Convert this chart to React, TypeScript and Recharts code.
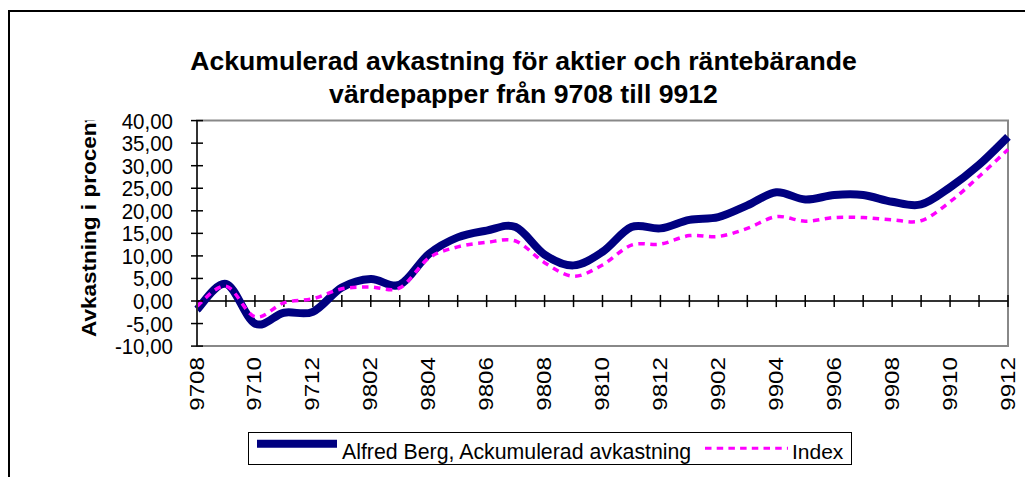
import React from 'react';
import { LineChart, Line, XAxis, YAxis, ReferenceLine, ReferenceArea, Legend } from 'recharts';

const months = ['9708', '9709', '9710', '9711', '9712', '9801', '9802', '9803', '9804', '9805', '9806', '9807', '9808', '9809', '9810', '9811', '9812', '9901', '9902', '9903', '9904', '9905', '9906', '9907', '9908', '9909', '9910', '9911', '9912'];
const alfredBerg = [-1.9, 3.8, -5.0, -2.6, -2.4, 3.0, 4.9, 3.6, 10.4, 14.1, 15.6, 16.4, 10.3, 7.9, 10.9, 16.4, 16.1, 18.0, 18.6, 21.2, 24.1, 22.5, 23.5, 23.5, 22.0, 21.4, 25.2, 30.2, 36.4];
const indexSeries = [-1.1, 3.3, -3.5, -0.4, 0.5, 2.7, 3.1, 2.9, 9.5, 12.0, 13.0, 13.3, 8.5, 5.5, 8.0, 12.4, 12.6, 14.5, 14.3, 16.1, 18.7, 17.7, 18.5, 18.5, 18.0, 17.8, 22.0, 27.6, 33.6];
const yTicks = [-10, -5, 0, 5, 10, 15, 20, 25, 30, 35, 40];
const titleLines = ['Ackumulerad avkastning för aktier och räntebärande', 'värdepapper från 9708 till 9912'];
const yAxisTitle = 'Avkastning i procent';
const seriesNames = ['Alfred Berg, Ackumulerad avkastning', 'Index'];

const data = months.map((m, i) => ({ m, ab: alfredBerg[i], idx: indexSeries[i] }));

const FONT = '"Liberation Sans", Arial, sans-serif';
const Y_STRETCH = 1.08;
const X_STRETCH = 1.15;
const NAVY = '#000080';
const MAGENTA = '#FF00FF';

// Excel-like smoothing (uniform Catmull-Rom as cubic Bezier)
const excelSmooth: any = (context: any) => {
  let pts: number[][] = [];
  return {
    areaStart() {},
    areaEnd() {},
    lineStart() {
      pts = [];
    },
    point(x: number, y: number) {
      pts.push([+x, +y]);
    },
    lineEnd() {
      const n = pts.length;
      if (!n) return;
      context.moveTo(pts[0][0], pts[0][1]);
      for (let i = 0; i < n - 1; i++) {
        const p0 = pts[Math.max(i - 1, 0)];
        const p1 = pts[i];
        const p2 = pts[i + 1];
        const p3 = pts[Math.min(i + 2, n - 1)];
        context.bezierCurveTo(
          p1[0] + (p2[0] - p0[0]) / 6,
          p1[1] + (p2[1] - p0[1]) / 6,
          p2[0] - (p3[0] - p1[0]) / 6,
          p2[1] - (p3[1] - p1[1]) / 6,
          p2[0],
          p2[1]
        );
      }
    },
  };
};

const fmt = (v: number) => v.toFixed(2).replace('.', ',');

const YTick = (props: any) => {
  const { x, y, payload } = props;
  const ax = x + 24;
  return (
    <g>
      <line x1={ax - 6} x2={ax + 6} y1={y} y2={y} stroke="#000" strokeWidth={1.5} />
      <g transform={`translate(${x},${y}) scale(1,${Y_STRETCH})`}>
        <text textAnchor="end" dy="0.36em" fontSize={20.5} fill="#000" fontFamily={FONT}>
          {fmt(payload.value)}
        </text>
      </g>
    </g>
  );
};

const XTick = (props: any) => {
  const { x, y, payload } = props;
  return (
    <g transform={`translate(${x - 1},${y + 3}) scale(1,${X_STRETCH})`}>
      <text transform="rotate(-90)" textAnchor="end" dy="0.36em" fontSize={21} fill="#000" fontFamily={FONT}>
        {payload.value}
      </text>
    </g>
  );
};

const LegendBox = () => (
  <svg width={605} height={34} style={{ display: 'block', overflow: 'visible' }}>
    <rect x={0.5} y={0.5} width={603} height={32} fill="#fff" stroke="#000" strokeWidth={1} />
    <line x1={9} x2={89} y1={11.8} y2={11.8} stroke={NAVY} strokeWidth={8} />
    <text x={94} y={27.3} fontSize={21.3} fill="#000" fontFamily={FONT}>
      {seriesNames[0]}
    </text>
    <line x1={457} x2={540} y1={16.3} y2={16.3} stroke={MAGENTA} strokeWidth={3} strokeDasharray="6.5 5.2" />
    <text x={544} y={27.3} fontSize={21} fill="#000" fontFamily={FONT}>
      {seriesNames[1]}
    </text>
  </svg>
);

export default function App() {
  return (
    <div
      style={{
        position: 'absolute',
        left: 0,
        top: 0,
        width: 1025,
        height: 477,
        overflow: 'hidden',
        background: '#fff',
        fontFamily: FONT,
      }}
    >
      <svg width={1025} height={477} style={{ position: 'absolute', left: 0, top: 0 }}>
        <defs>
          <clipPath id="ylabclip">
            <rect x={0} y={120.5} width={200} height={357} />
          </clipPath>
        </defs>
        <rect x={9} y={11} width={1200} height={1000} fill="none" stroke="#000" strokeWidth={2} />
        <text x={523.5} y={70} textAnchor="middle" fontSize={26.6} fontWeight="bold" fill="#000" fontFamily={FONT}>
          {titleLines[0]}
        </text>
        <text x={523.5} y={103} textAnchor="middle" fontSize={26.6} fontWeight="bold" fill="#000" fontFamily={FONT}>
          {titleLines[1]}
        </text>
        <g clipPath="url(#ylabclip)">
          <g transform={`translate(96,337) scale(1,1.1)`}>
            <text transform="rotate(-90)" fontSize={20.5} fontWeight="bold" fill="#000" fontFamily={FONT}>
              {yAxisTitle}
            </text>
          </g>
        </g>
      </svg>
      <div style={{ position: 'absolute', left: 0, top: 0 }}>
        <LineChart width={1025} height={477} data={data} margin={{ top: 120.6, right: 17, bottom: 30.9, left: 97 }}>
          <ReferenceArea
            x1={months[0]}
            x2={months[months.length - 1]}
            y1={-10}
            y2={40}
            fill="none"
            fillOpacity={0}
            stroke="#888"
            strokeWidth={2}
          />
          <ReferenceLine y={0} stroke="#333" strokeWidth={2} />
          {months.map((m) => (
            <ReferenceLine
              key={m}
              segment={[
                { x: m, y: -1.35 },
                { x: m, y: 1.35 },
              ]}
              stroke="#000"
              strokeWidth={1.5}
            />
          ))}
          <XAxis
            dataKey="m"
            type="category"
            interval={1}
            height={100}
            axisLine={false}
            tickLine={false}
            tick={<XTick />}
          />
          <YAxis
            type="number"
            domain={[-10, 40]}
            ticks={yTicks}
            interval={0}
            width={100}
            tickLine={false}
            tickSize={6}
            tickMargin={18}
            axisLine={{ stroke: '#333', strokeWidth: 2 }}
            tick={<YTick />}
          />
          <Line
            dataKey="ab"
            name={seriesNames[0]}
            type={excelSmooth}
            stroke={NAVY}
            strokeWidth={8}
            dot={false}
            activeDot={false}
            isAnimationActive={false}
          />
          <Line
            dataKey="idx"
            name={seriesNames[1]}
            type={excelSmooth}
            stroke={MAGENTA}
            strokeWidth={3.5}
            strokeDasharray="6.5 5.5"
            dot={false}
            activeDot={false}
            isAnimationActive={false}
          />
          <Legend
            layout="horizontal"
            verticalAlign="middle"
            align="center"
            content={<LegendBox />}
            wrapperStyle={{ left: 248, top: 431.5, width: 605, height: 34 }}
          />
        </LineChart>
      </div>
    </div>
  );
}
